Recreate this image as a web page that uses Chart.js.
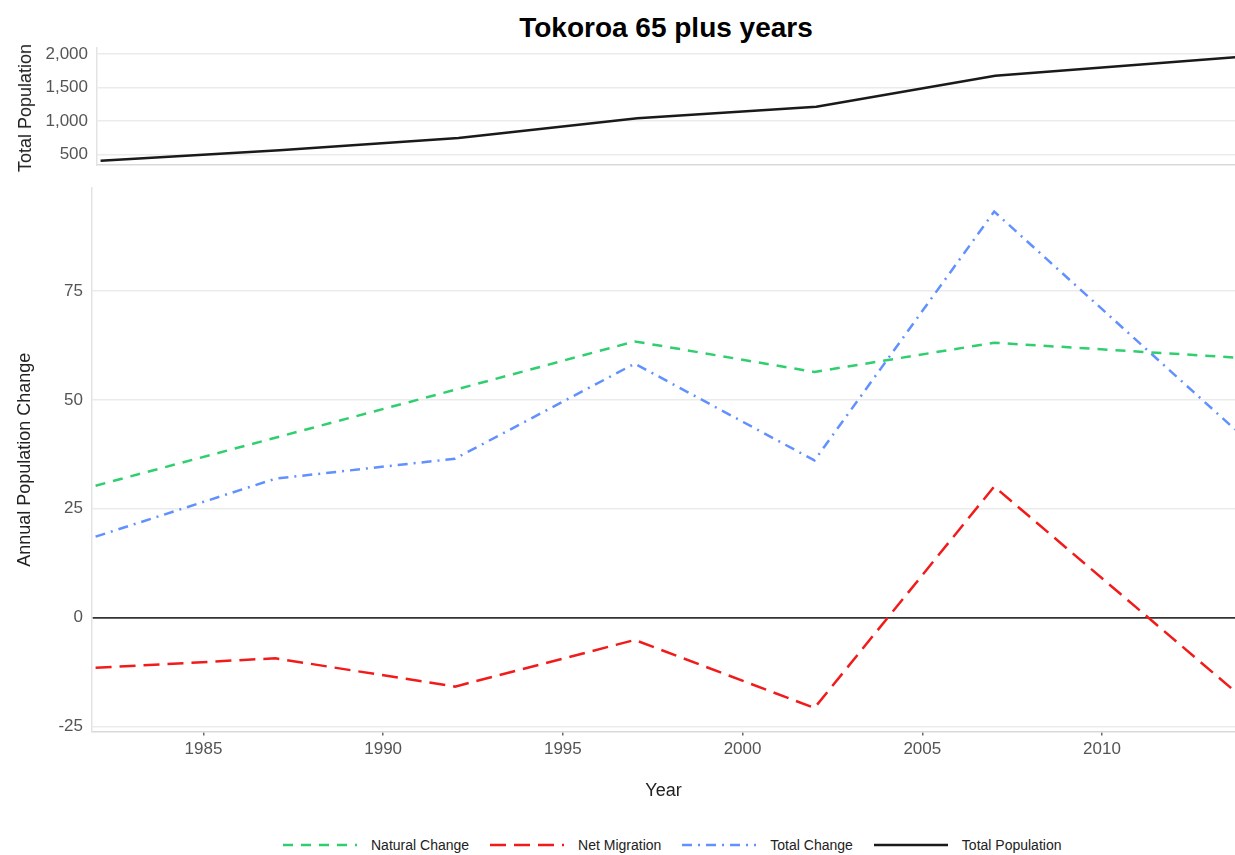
<!DOCTYPE html>
<html><head><meta charset="utf-8">
<script src="https://cdn.jsdelivr.net/npm/chart.js@4/dist/chart.umd.min.js"></script>
<style>
html,body{margin:0;padding:0;background:#fff;width:1235px;height:855px;overflow:hidden;font-family:"Liberation Sans",Arial,sans-serif;}
#title{position:absolute;left:97px;width:1138px;top:8px;text-align:center;font-size:28px;font-weight:bold;color:#000;line-height:40px;margin:0}
#topWrap{position:absolute;left:0;top:40px;width:1235px;height:135px}
#botWrap{position:absolute;left:0;top:180px;width:1235px;height:640px}
#topTitle{position:absolute;left:24.8px;top:108px;transform:translate(-50%,-50%) rotate(-90deg);font-size:18px;color:#222;white-space:nowrap;line-height:20px}
#legend{position:absolute;top:835px;left:283px;height:20px;display:flex;align-items:center;font-size:14px;color:#222}
.item{display:flex;align-items:center;margin-right:21px}
.item svg{width:74px;height:10px;margin-right:14px;display:block}
</style></head>
<body>
<div id="title">Tokoroa 65 plus years</div>
<div id="topWrap"><canvas id="topChart"></canvas></div>
<div id="topTitle">Total Population</div>
<div id="botWrap"><canvas id="botChart"></canvas></div>
<div id="legend"></div>
<script>
// ---- data ----
const years = [1982, 1987, 1992, 1997, 2002, 2007, 2013.7];
const totalPopulation = [404, 560, 745, 1040, 1213, 1676, 1952];
const naturalChange = [30.3, 41.3, 52.3, 63.4, 56.4, 63.1, 59.7];
const netMigration = [-11.5, -9.3, -15.8, -5.1, -20.7, 30.1, -16.9];
const totalChange = [18.6, 31.9, 36.5, 58.3, 36.1, 93.2, 43.2];
const xTicks = [1985, 1990, 1995, 2000, 2005, 2010];
const popTicks = [500, 1000, 1500, 2000];
const changeTicks = [-25, 0, 25, 50, 75];
const seriesNames = ["Natural Change", "Net Migration", "Total Change", "Total Population"];

// ---- styles ----
const FONT = '"Liberation Sans", Arial, sans-serif';
const colors = ['#2fcf6f', '#f21b1b', '#6190ff', '#1a1a1a'];
const dashes = [[10, 8], [16, 8], [10, 6, 2, 6], []];
const LW = 2.5;
const xMin = 1981.9, xMax = 2013.7;

function pts(vals){ return years.map((x,i)=>({x:x, y:vals[i]})); }
function noPad(s){ s.paddingTop=0; s.paddingBottom=0; s.paddingLeft=0; s.paddingRight=0; }

new Chart(document.getElementById('topChart'), {
  type: 'line',
  data: { datasets: [{
    label: seriesNames[3], data: pts(totalPopulation), borderColor: colors[3],
    borderWidth: LW, pointRadius: 0, fill: false, tension: 0, borderDash: dashes[3]
  }]},
  options: {
    responsive: true, maintainAspectRatio: false, animation: false,
    layout: { padding: { top: 8, bottom: 10, left: 0, right: 0 } },
    plugins: { legend: { display: false }, tooltip: { enabled: false } },
    scales: {
      x: { type: 'linear', min: xMin, max: xMax,
        ticks: { display: false },
        grid: { drawOnChartArea: false, drawTicks: false },
        border: { display: true, color: '#d9d9d9', width: 1.5 },
        afterFit(s){ s.height = 0; noPad(s); } },
      y: { min: 340, max: 2090,
        afterBuildTicks(s){ s.ticks = popTicks.map(v=>({value:v})); },
        ticks: { padding: 9, color: '#555', font: { size: 17, family: FONT },
          callback: v => Number(v).toLocaleString('en-US') },
        grid: { color: '#ebebeb', lineWidth: 1.5, drawTicks: false },
        border: { color: '#e3e3e3', width: 1.5 },
        afterFit(s){ s.width = 97; noPad(s); } }
    }
  }
});

const botSets = [naturalChange, netMigration, totalChange].map((vals, i) => ({
  label: seriesNames[i], data: pts(vals), borderColor: colors[i], borderWidth: LW,
  borderDash: dashes[i], pointRadius: 0, fill: false, tension: 0
}));

new Chart(document.getElementById('botChart'), {
  type: 'line',
  data: { datasets: botSets },
  options: {
    responsive: true, maintainAspectRatio: false, animation: false,
    layout: { padding: { top: 8, bottom: 8.5, left: 0, right: 0 } },
    plugins: { legend: { display: false }, tooltip: { enabled: false } },
    scales: {
      x: { type: 'linear', min: xMin, max: xMax,
        afterBuildTicks(s){ s.ticks = xTicks.map(v=>({value:v})); },
        ticks: { padding: 4, color: '#555', font: { size: 17, family: FONT }, callback: v => String(v) },
        grid: { drawOnChartArea: false, drawTicks: true, tickLength: 4, tickColor: '#666', lineWidth: 1.5 },
        border: { display: true, color: '#d9d9d9', width: 1.5 },
        title: { display: true, text: 'Year', color: '#222', font: { size: 18, family: FONT }, padding: { top: 0, bottom: 9.7 } },
        afterFit(s){ s.height = 80; noPad(s); } },
      y: { min: -26.1, max: 98.6,
        afterBuildTicks(s){ s.ticks = changeTicks.map(v=>({value:v})); },
        ticks: { padding: 9, color: '#555', font: { size: 17, family: FONT } },
        grid: { color: c => (c.tick && c.tick.value === 0) ? '#333' : '#ebebeb',
                lineWidth: c => (c.tick && c.tick.value === 0) ? 1.8 : 1.5, drawTicks: false },
        border: { color: '#e3e3e3', width: 1.5 },
        title: { display: true, text: 'Annual Population Change', color: '#222', font: { size: 18, family: FONT }, padding: { top: 14, bottom: 0 } },
        afterFit(s){ s.width = 92; noPad(s); } }
    }
  }
});

// ---- legend ----
const legend = document.getElementById('legend');
seriesNames.forEach((name, i) => {
  const item = document.createElement('div'); item.className = 'item';
  const svgNS = 'http://www.w3.org/2000/svg';
  const svg = document.createElementNS(svgNS, 'svg');
  svg.setAttribute('width', '74'); svg.setAttribute('height', '10');
  const ln = document.createElementNS(svgNS, 'line');
  ln.setAttribute('x1', '0'); ln.setAttribute('y1', '5'); ln.setAttribute('x2', '74'); ln.setAttribute('y2', '5');
  ln.setAttribute('stroke', colors[i]); ln.setAttribute('stroke-width', String(LW));
  if (dashes[i].length) ln.setAttribute('stroke-dasharray', dashes[i].join(' '));
  svg.appendChild(ln);
  const sp = document.createElement('span'); sp.textContent = name;
  item.appendChild(svg); item.appendChild(sp);
  legend.appendChild(item);
});
</script>
</body></html>
